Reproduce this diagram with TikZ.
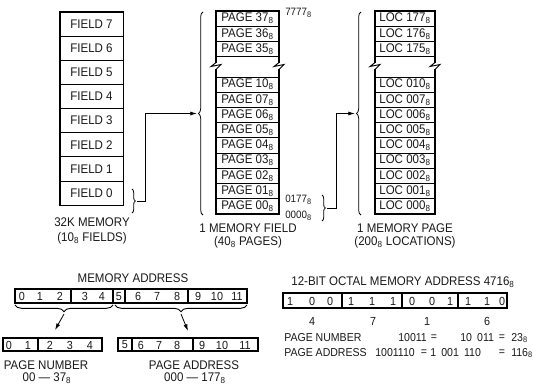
\documentclass[tikz,border=0pt]{standalone}
\usepackage{fontspec}
\setmainfont{Liberation Sans}[FakeStretch=0.92]
\usetikzlibrary{arrows.meta,decorations.pathreplacing}
\newcommand\oct{\textsubscript{8}}
\newcommand\pxu{0.75pt}
\begin{document}
\begin{tikzpicture}[x=0.75pt,y=-0.75pt,
  every node/.style={font=\fontsize{9.4}{11}\selectfont, inner sep=0pt, text=black!90},
  fcell/.style={draw, line width=0.6pt, minimum width=63*\pxu, minimum height=24.1*\pxu},
  pcell/.style={draw, line width=0.6pt, minimum width=63*\pxu, minimum height=15.2*\pxu},
  lcell/.style={draw, line width=0.6pt, minimum width=60*\pxu, minimum height=15.2*\pxu},
  outer/.style={line width=1.3pt, line join=miter},
  zig/.style={line width=0.7pt},
  grp/.style={draw, line width=0.9pt, minimum height=#1*\pxu},
  bit/.style={font=\fontsize{8.8}{10}\selectfont},
  lbl/.style={font=\fontsize{9.4}{11}\selectfont},
  rlbl/.style={font=\fontsize{8.6}{10}\selectfont},
  smalllbl/.style={font=\fontsize{8}{9}\selectfont},
  bigbrace/.style={decorate, decoration={brace, amplitude=3.5pt}, line width=0.6pt},
  smallbrace/.style={decorate, decoration={brace, amplitude=2.5pt}, line width=0.6pt},
  hbrace/.style={decorate, decoration={brace, amplitude=5pt}, line width=0.7pt},
  conn/.style={line width=0.6pt, -{Latex[length=5pt,width=3pt]}},
]
\useasboundingbox (0,0) rectangle (539,389);

% ---------- column 1: 32K memory ----------
\foreach \i in {0,...,7} {
  \node[fcell] (f\i) at (91.5,{205-24.1*(\i+0.5)}) {FIELD \i};
}
\draw[outer] (f7.north west) rectangle (f0.south east);
\node[lbl] (cap1a) at (92,222) {32K MEMORY};
\node[lbl] (cap1b) at (92,238) {(10\oct\ FIELDS)};

% ---------- column 2: 1 memory field ----------
\foreach \t [count=\k from 0] in {37,36,35} {
  \node[pcell] (p\t) at (247.5,{11+15.2*(\k+0.5)}) {PAGE \t\oct};
}
\foreach \t [count=\k from 0] in {10,07,06,05,04,03,02,01,00} {
  \node[pcell] (p\t) at (247.5,{77+15.2*(\k+0.5)}) {PAGE \t\oct};
}
\draw[outer] (216,63) -- (216,11) -- (279,11) -- (279,63);
\draw[outer] (216,69) -- (216,213.8) -- (279,213.8) -- (279,69);
\draw[zig] (216,62.5) -- (211,66.5) -- (221,64.5) -- (216,69.5);
\draw[zig] (279,62.5) -- (274,66.5) -- (284,64.5) -- (279,69.5);
\node[smalllbl, anchor=west] (a7777) at (285,13) {7777\oct};
\node[smalllbl, anchor=west] (a0177) at (285,200) {0177\oct};
\node[smalllbl, anchor=west] (a0000) at (285,216) {0000\oct};
\node[lbl] (cap2a) at (248,228) {1 MEMORY FIELD};
\node[lbl] (cap2b) at (248,242) {(40\oct\ PAGES)};

% ---------- column 3: 1 memory page ----------
\foreach \t [count=\k from 0] in {177,176,175} {
  \node[lcell] (l\t) at (405,{11+15.2*(\k+0.5)}) {LOC \t\oct};
}
\foreach \t [count=\k from 0] in {010,007,006,005,004,003,002,001,000} {
  \node[lcell] (l\t) at (405,{77+15.2*(\k+0.5)}) {LOC \t\oct};
}
\draw[outer] (375,63) -- (375,11) -- (435,11) -- (435,63);
\draw[outer] (375,69) -- (375,213.8) -- (435,213.8) -- (435,69);
\draw[zig] (375,62.5) -- (370,66.5) -- (380,64.5) -- (375,69.5);
\draw[zig] (435,62.5) -- (430,66.5) -- (440,64.5) -- (435,69.5);
\node[lbl] (cap3a) at (405,228) {1 MEMORY PAGE};
\node[lbl] (cap3b) at (405,242) {(200\oct\ LOCATIONS)};

% ---------- braces and connectors ----------
\draw[smallbrace] (132,189) -- (132,213);
\coordinate (s1) at (137,201);
\draw[bigbrace] (203,215) -- (203,12);
\coordinate (t2) at (197,113.5);
\draw[conn] (s1) -- ++(8,0) |- (t2);

\draw[smallbrace] (322,195) -- (322,221);
\coordinate (s2) at (327,208);
\draw[bigbrace] (361,215) -- (361,12);
\coordinate (t3) at (355,113.5);
\draw[conn] (s2) -- ++(9,0) |- (t3);

% ---------- memory address ----------
\node[lbl] (mat) at (133,278) {MEMORY ADDRESS};
\node[grp=14, minimum width=56*\pxu] (ma1) at (43,296) {};
\node[grp=14, minimum width=42*\pxu] (ma2) at (92,296) {};
\node[grp=14, minimum width=12*\pxu] (ma3) at (119,296) {};
\node[grp=14, minimum width=63*\pxu] (ma4) at (156.5,296) {};
\node[grp=14, minimum width=59*\pxu] (ma5) at (217.5,296) {};
\foreach \d/\x in {0/22,1/40,2/60,3/85,4/102,5/119,6/138,7/157,8/177,9/198,10/217,11/237} {
  \node[bit] (m\d) at (\x,296.5) {\d};
}
\draw[hbrace] (113,305) -- (15,305);
\draw[hbrace] (247,305) -- (115,305);
\coordinate (bt1) at (64,314);
\coordinate (bt2) at (181,314);
\coordinate (ae1) at (55,330);
\coordinate (ae2) at (188,331);
\draw[conn] (bt1) -- (ae1);
\draw[conn] (bt2) -- (ae2);

% page number box
\node[grp=13, minimum width=35*\pxu] (pn1) at (20.5,344.5) {};
\node[grp=13, minimum width=64*\pxu] (pn2) at (70,344.5) {};
\foreach \d/\x in {0/9,1/28,2/50,3/70,4/90} {
  \node[bit] (n\d) at (\x,345) {\d};
}
\node[lbl] (pnl) at (46,365) {PAGE NUMBER};
\node[lbl] (pnr) at (47,378) {00 — 37\oct};

% page address box
\node[grp=13, minimum width=14*\pxu] (pa1) at (125,344.5) {};
\node[grp=13, minimum width=61*\pxu] (pa2) at (162.5,344.5) {};
\node[grp=13, minimum width=65*\pxu] (pa3) at (225.5,344.5) {};
\foreach \d/\x in {5/125,6/141,7/159,8/177,9/202,10/222,11/245} {
  \node[bit] (q\d) at (\x,345) {\d};
}
\node[lbl] (pal) at (194,365) {PAGE ADDRESS};
\node[lbl] (par) at (195,378) {000 — 177\oct};

% ---------- 12-bit octal example ----------
\node[lbl] (oct) at (403,282) {12-BIT OCTAL MEMORY ADDRESS 4716\oct};
\node[grp=15, minimum width=59*\pxu] (oc1) at (312.5,300.5) {};
\node[grp=15, minimum width=60*\pxu] (oc2) at (372,300.5) {};
\node[grp=15, minimum width=56*\pxu] (oc3) at (430,300.5) {};
\node[grp=15, minimum width=49*\pxu] (oc4) at (482.5,300.5) {};
\foreach \b/\x [count=\k] in {1/290,0/312,0/330,1/351,1/372,1/393,0/412,0/432,1/450,1/468,1/487,0/502} {
  \node[bit] (ob\k) at (\x,301) {\b};
}
\foreach \o/\x in {4/312,7/373,1/427,6/487} {
  \node[bit] (od\o) at (\x,321) {\o};
}
\node[rlbl, anchor=west] (pnt) at (284,338) {PAGE NUMBER};
\node[rlbl, anchor=west] (pnv1) at (398,338) {10011};
\node[rlbl] (pne1) at (434,338) {=};
\node[rlbl, anchor=west] (pnv2) at (460,338) {10\hspace{0.45em}011};
\node[rlbl] (pne2) at (502,338) {=};
\node[rlbl, anchor=west] (pnv3) at (511,338) {23\oct};
\node[rlbl, anchor=west] (pat) at (284,353) {PAGE ADDRESS};
\node[rlbl, anchor=west] (pav1) at (375,353) {1001110};
\node[rlbl] (pae1) at (424,353) {=};
\node[rlbl, anchor=west] (pav2) at (430,353) {1\hspace{0.45em}001\hspace{0.45em}110};
\node[rlbl] (pae2) at (502,353) {=};
\node[rlbl, anchor=west] (pav3) at (511,353) {116\oct};
\end{tikzpicture}
\end{document}
